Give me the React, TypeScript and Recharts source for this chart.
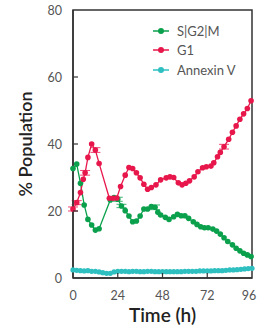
import React from 'react';
import {
  LineChart,
  Line,
  XAxis,
  YAxis,
  ReferenceArea,
  Label,
  ErrorBar
} from 'recharts';

// hours / % population
const sg2mTimes = [0, 2, 4, 6, 8, 10, 12, 14, 20, 22, 24, 26, 28, 30, 32, 34, 36, 38, 40, 42, 44, 45.5, 47, 49.5, 51.5, 54, 56, 58, 60, 62, 64.5, 66.5, 68.5, 70.5, 72.5, 75, 77, 79, 81, 83, 85.5, 87.5, 89.5, 91.5, 93.5, 95.5];
const sg2mValues = [32.7, 34, 28.3, 21.8, 17.5, 15.8, 14.3, 14.7, 23.3, 24, 23.5, 21.5, 20.1, 18.5, 16.8, 17, 18.5, 20.6, 20.6, 21.3, 21.1, 19.6, 18.8, 18.1, 17.5, 18.3, 19, 18.6, 18.6, 17.8, 16.8, 16, 15.3, 15, 15, 14.6, 14, 13.1, 12, 10.9, 9.9, 8.9, 8.1, 7.4, 6.9, 6.4];
const sg2mErrors = [0, 0, 0, 0, 0, 0, 0, 0, 0, 0, 0.6, 0.5, 0, 0, 0, 0, 0, 0, 0, 0, 0.7, 0, 0, 0, 0, 0, 0, 0, 0, 0, 0, 0, 0, 0, 0, 0, 0, 0, 0, 0, 0, 0, 0, 0, 0, 0];

const g1Times = [0, 2, 4, 5.5, 6.5, 8, 10, 12, 14, 19.5, 21.5, 23.5, 25.5, 28, 30, 32, 34, 36, 38, 40, 42, 44.5, 47, 50, 52, 54, 56.5, 58.5, 60.5, 62.5, 65, 67, 69.5, 71.5, 74, 75.5, 77.5, 79, 81, 83.5, 85.5, 87.5, 89.5, 91.5, 93.5, 95.5];
const g1Values = [20.6, 22.5, 25.5, 29.5, 31.4, 36, 40, 38.2, 34.2, 23.8, 23.8, 23.9, 27.3, 30.7, 33, 32.7, 31.4, 29.9, 28, 26.5, 27, 27.8, 29.3, 29.9, 30.2, 30, 28.4, 27.8, 28.3, 29, 30.2, 31.7, 32.9, 33.2, 33.4, 34.4, 36.2, 37.5, 39.2, 41.4, 43.5, 45.4, 47.4, 49, 50.6, 52.9];
const g1Errors = [0.6, 0.6, 0, 0, 0.7, 0, 0, 0.7, 0, 0, 0, 0, 0, 0, 0, 0, 0, 0, 0, 0, 0, 0, 0, 0, 0, 0, 0, 0, 0, 0, 0, 0, 0, 0, 0, 0, 0, 0, 0.7, 0, 0, 0, 0, 0, 0, 0];

const annexinTimes = [0, 2, 4, 6, 8, 10, 12, 14, 16, 18, 20, 22, 24, 26, 28, 30, 32, 34, 36, 38, 40, 42, 44, 46, 48, 50, 52, 54, 56, 58, 60, 62, 64, 66, 68, 70, 72, 74, 76, 78, 80, 82, 84, 86, 88, 90, 92, 94, 96];
const annexinValues = [2.4, 2.3, 2.2, 2.1, 2.2, 2.0, 2.0, 1.8, 1.6, 1.4, 1.4, 1.8, 2.0, 2.0, 2.0, 1.9, 2.0, 2.0, 1.9, 1.9, 2.0, 2.0, 1.9, 1.9, 1.9, 1.9, 1.9, 1.9, 1.9, 1.9, 2.0, 2.0, 2.0, 2.0, 2.1, 2.1, 2.1, 2.1, 2.2, 2.2, 2.2, 2.3, 2.4, 2.4, 2.5, 2.6, 2.7, 2.8, 2.9];

const xTicks = [0, 24, 48, 72, 96];
const yTicks = [0, 20, 40, 60, 80];

const GREEN = '#0aa04c';
const RED = '#e8174b';
const TEAL = '#2ebfc0';
const AXIS = '#333333';
const FONT = 'Lato, "Open Sans", sans-serif';

const toRows = (ts: number[], vs: number[], es?: number[]) =>
  ts.map((t, i) => ({ t, v: vs[i], e: es ? es[i] : 0 }));

const sg2mData = toRows(sg2mTimes, sg2mValues, sg2mErrors);
const g1Data = toRows(g1Times, g1Values, g1Errors);
const annexinData = toRows(annexinTimes, annexinValues);

const legendItems = [
  { label: 'S|G2|M', color: GREEN },
  { label: 'G1', color: RED },
  { label: 'Annexin V', color: TEAL }
];

// ticks point into the plot
const XTick = (props: any) => {
  const { x, y, payload } = props;
  const inner = payload.value !== 0 && payload.value !== 96;
  return (
    <g>
      {inner && <line x1={x} y1={y} x2={x} y2={y - 5} stroke={AXIS} strokeWidth={1.2} />}
      <text x={x} y={y + 22} textAnchor="middle" fill="#555" fontSize={12.5} fontFamily={FONT}>
        {payload.value}
      </text>
    </g>
  );
};

const YTick = (props: any) => {
  const { x, y, payload } = props;
  const inner = payload.value !== 0 && payload.value !== 80;
  return (
    <g>
      {inner && <line x1={x} y1={y} x2={x + 5} y2={y} stroke={AXIS} strokeWidth={1.2} />}
      <text x={x - 11} y={y + 4.5} textAnchor="end" fill="#555" fontSize={12.5} fontFamily={FONT}>
        {payload.value}
      </text>
    </g>
  );
};

const LegendBox = () => (
  <div style={{ position: 'absolute', left: 153, top: 21, fontFamily: FONT, fontSize: 13, color: '#555' }}>
    {legendItems.map(item => (
      <div key={item.label} style={{ display: 'flex', alignItems: 'center', height: 19.5 }}>
        <svg width={16} height={8} style={{ marginRight: 8 }}>
          <line x1={0} y1={4} x2={16} y2={4} stroke={item.color} strokeWidth={1.5} />
          <circle cx={8} cy={4} r={3} fill={item.color} />
        </svg>
        <span>{item.label}</span>
      </div>
    ))}
  </div>
);

export default function App() {
  return (
    <div style={{ position: 'absolute', left: 0, top: 0, width: 257, height: 333, background: '#fff' }}>
      <LineChart width={257} height={333} margin={{ top: 10, right: 5, bottom: 0, left: 0 }}>
        <XAxis
          type="number"
          dataKey="t"
          domain={[0, 96]}
          ticks={xTicks}
          tick={<XTick />}
          tickLine={false}
          tickSize={0}
          tickMargin={0}
          height={55}
          axisLine={{ stroke: AXIS, strokeWidth: 1.5 }}
          allowDuplicatedCategory={false}
        >
          <Label
            value="Time (h)"
            position="insideBottom"
            offset={11}
            style={{ fontFamily: FONT, fontSize: 19, fontWeight: 600, fill: '#222' }}
          />
        </XAxis>
        <YAxis
          type="number"
          domain={[0, 80]}
          ticks={yTicks}
          tick={<YTick />}
          tickLine={false}
          tickSize={0}
          tickMargin={0}
          width={73}
          axisLine={{ stroke: AXIS, strokeWidth: 1.5 }}
        >
          <Label
            value="% Population"
            content={(p: any) => {
              const vb = p.viewBox;
              const cx = 25;
              const cy = vb.y + vb.height / 2;
              return (
                <text
                  x={cx}
                  y={cy}
                  transform={`rotate(-90 ${cx} ${cy})`}
                  textAnchor="middle"
                  dominantBaseline="central"
                  fontFamily={FONT}
                  fontSize={18}
                  fontWeight={600}
                  fill="#222"
                >
                  % Population
                </text>
              );
            }}
          />
        </YAxis>
        <ReferenceArea x1={0} x2={96} y1={0} y2={80} fill="none" stroke={AXIS} strokeWidth={1.5} />
        <Line
          data={annexinData}
          dataKey="v"
          name="Annexin V"
          stroke={TEAL}
          strokeWidth={1.3}
          dot={{ r: 2.6, fill: TEAL, stroke: 'none' }}
          isAnimationActive={false}
        />
        <Line
          data={sg2mData}
          dataKey="v"
          name="S|G2|M"
          stroke={GREEN}
          strokeWidth={1.3}
          dot={{ r: 2.8, fill: GREEN, stroke: 'none' }}
          isAnimationActive={false}
        >
          <ErrorBar dataKey="e" direction="y" width={5} stroke={GREEN} strokeWidth={0.8} />
        </Line>
        <Line
          data={g1Data}
          dataKey="v"
          name="G1"
          stroke={RED}
          strokeWidth={1.3}
          dot={{ r: 2.8, fill: RED, stroke: 'none' }}
          isAnimationActive={false}
        >
          <ErrorBar dataKey="e" direction="y" width={5} stroke={RED} strokeWidth={0.8} />
        </Line>
      </LineChart>
      <LegendBox />
    </div>
  );
}
